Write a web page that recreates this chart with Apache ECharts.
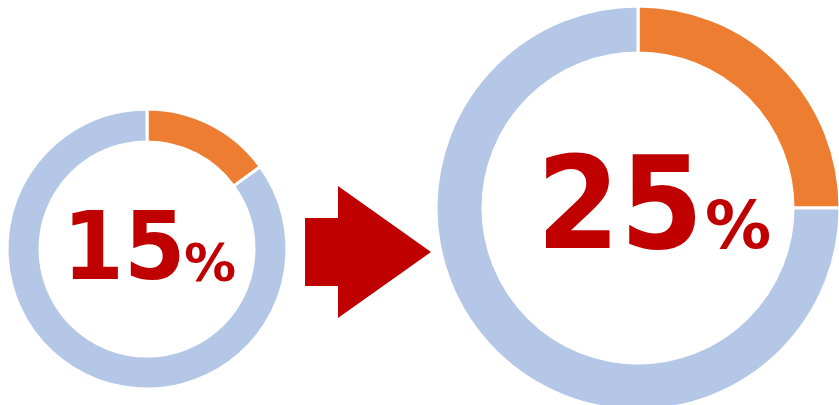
<!DOCTYPE html>
<html><head><meta charset="utf-8">
<script src="https://cdn.jsdelivr.net/npm/echarts@6/dist/echarts.min.js"></script>
<style>html,body{margin:0;padding:0;background:#fff}#c{width:839px;height:405px}</style>
</head><body><div id="c"></div>
<script>
const categories = ['share', 'rest'];
const beforeValues = [15, 85];
const afterValues = [25, 75];
const percentLabels = ['15', '25'];
const percentSign = '%';

const colors = ['#ED7D31', '#B4C7E7'];
const red = '#C00000';
const font = '"DejaVu Sans", Verdana, sans-serif';

function toData(vals) {
  return vals.map((v, i) => ({ name: categories[i], value: v, itemStyle: { color: colors[i] } }));
}

const chart = echarts.init(document.getElementById('c'), null, { renderer: 'canvas' });
chart.setOption({
  animation: false,
  backgroundColor: '#fff',
  series: [
    {
      type: 'pie', center: [147, 249], radius: [107, 140], startAngle: 90, clockwise: true,
      label: { show: false }, labelLine: { show: false }, emphasis: { disabled: true }, silent: true,
      itemStyle: { borderColor: '#fff', borderWidth: 3 },
      data: toData(beforeValues)
    },
    {
      type: 'pie', center: [638, 208], radius: [155, 202], startAngle: 90, clockwise: true,
      label: { show: false }, labelLine: { show: false }, emphasis: { disabled: true }, silent: true,
      itemStyle: { borderColor: '#fff', borderWidth: 3 },
      data: toData(afterValues)
    }
  ],
  graphic: [
    { type: 'polygon', shape: { points: [[305,218],[338,218],[338,186],[431,252],[338,318],[338,286],[305,286]] }, style: { fill: red } },
    { type: 'text', x: 185.5, y: 254, scaleX: 0.93, style: { text: percentLabels[0], font: 'bold 95px ' + font, fill: red, align: 'right', verticalAlign: 'middle' } },
    { type: 'text', x: 184, y: 267, style: { text: percentSign, font: 'bold 52px ' + font, fill: red, align: 'left', verticalAlign: 'middle' } },
    { type: 'text', x: 703.5, y: 214, scaleX: 0.93, style: { text: percentLabels[1], font: 'bold 129px ' + font, fill: red, align: 'right', verticalAlign: 'middle' } },
    { type: 'text', x: 705, y: 231, style: { text: percentSign, font: 'bold 66px ' + font, fill: red, align: 'left', verticalAlign: 'middle' } }
  ]
});
</script></body></html>
